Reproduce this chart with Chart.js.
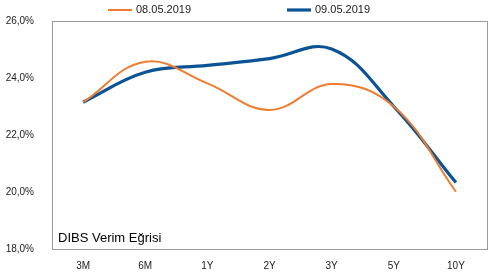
<!DOCTYPE html>
<html>
<head>
<meta charset="utf-8">
<script src="https://cdn.jsdelivr.net/npm/chart.js@4/dist/chart.umd.min.js"></script>
<style>
  html, body { margin: 0; padding: 0; background: #fff; }
  #wrap { width: 498px; height: 277px; }
</style>
</head>
<body>
<div id="wrap"><canvas id="yieldChart"></canvas></div>
<script>
// Vadeler ve getiriler (%)
const maturities = ['3M', '6M', '1Y', '2Y', '3Y', '5Y', '10Y'];
const yields0805 = [23.15, 24.57, 23.81, 22.88, 23.79, 23.0, 20.01];
const yields0905 = [23.15, 24.2, 24.44, 24.68, 25.02, 23.0, 20.33];
const seriesLabels = ['08.05.2019', '09.05.2019'];
const chartTitle = 'DIBS Verim Eğrisi';

const FONT = '"Liberation Sans", Arial, sans-serif';

// çerçeve, başlık ve efsane
const decorPlugin = {
    id: 'decor',
    afterDraw(chart) {
        const { ctx, chartArea: a } = chart;
        ctx.save();
        ctx.strokeStyle = '#9a9a9a';
        ctx.lineWidth = 1;
        ctx.strokeRect(Math.round(a.left) + 0.5, Math.round(a.top) + 0.5,
            Math.round(a.right - a.left), Math.round(a.bottom - a.top));

        ctx.fillStyle = '#000';
        ctx.font = '13px ' + FONT;
        ctx.textBaseline = 'alphabetic';
        ctx.fillText(chartTitle, a.left + 6, a.bottom - 7);

        const starts = [108, 287];
        ctx.font = '11px ' + FONT;
        ctx.textBaseline = 'middle';
        chart.data.datasets.forEach((ds, i) => {
            const x = starts[i];
            ctx.strokeStyle = ds.borderColor;
            ctx.lineWidth = ds.borderWidth;
            ctx.beginPath();
            ctx.moveTo(x, 10);
            ctx.lineTo(x + 24, 10);
            ctx.stroke();
            ctx.fillStyle = '#222';
            ctx.fillText(ds.label, x + 28, 10);
        });
        ctx.restore();
    }
};

new Chart(document.getElementById('yieldChart'), {
    type: 'line',
    data: {
        labels: maturities,
        datasets: [
            {
                label: seriesLabels[0],
                data: yields0805,
                borderColor: '#ED7D31',
                borderWidth: 2,
                pointRadius: 0,
                tension: 0.4,
                fill: false
            },
            {
                label: seriesLabels[1],
                data: yields0905,
                borderColor: '#0B5394',
                borderWidth: 3.2,
                pointRadius: 0,
                tension: 0.4,
                fill: false
            }
        ]
    },
    options: {
        responsive: true,
        maintainAspectRatio: false,
        animation: false,
        layout: { padding: { top: 21, right: 11, left: 0, bottom: 0 } },
        plugins: {
            legend: { display: false },
            tooltip: { enabled: false }
        },
        scales: {
            x: {
                offset: true,
                grid: { display: false },
                border: { display: false },
                ticks: { color: '#222', font: { family: FONT, size: 10 }, padding: 3, maxRotation: 0 },
                afterFit(s) { s.height = 28; }
            },
            y: {
                min: 18,
                max: 26,
                grid: { display: false },
                border: { display: false },
                ticks: {
                    stepSize: 2,
                    color: '#222',
                    font: { family: FONT, size: 10 },
                    padding: 10,
                    callback: v => v.toFixed(1).replace('.', ',') + '%'
                },
                afterFit(s) { s.width = 52; }
            }
        }
    },
    plugins: [decorPlugin]
});
</script>
</body>
</html>
